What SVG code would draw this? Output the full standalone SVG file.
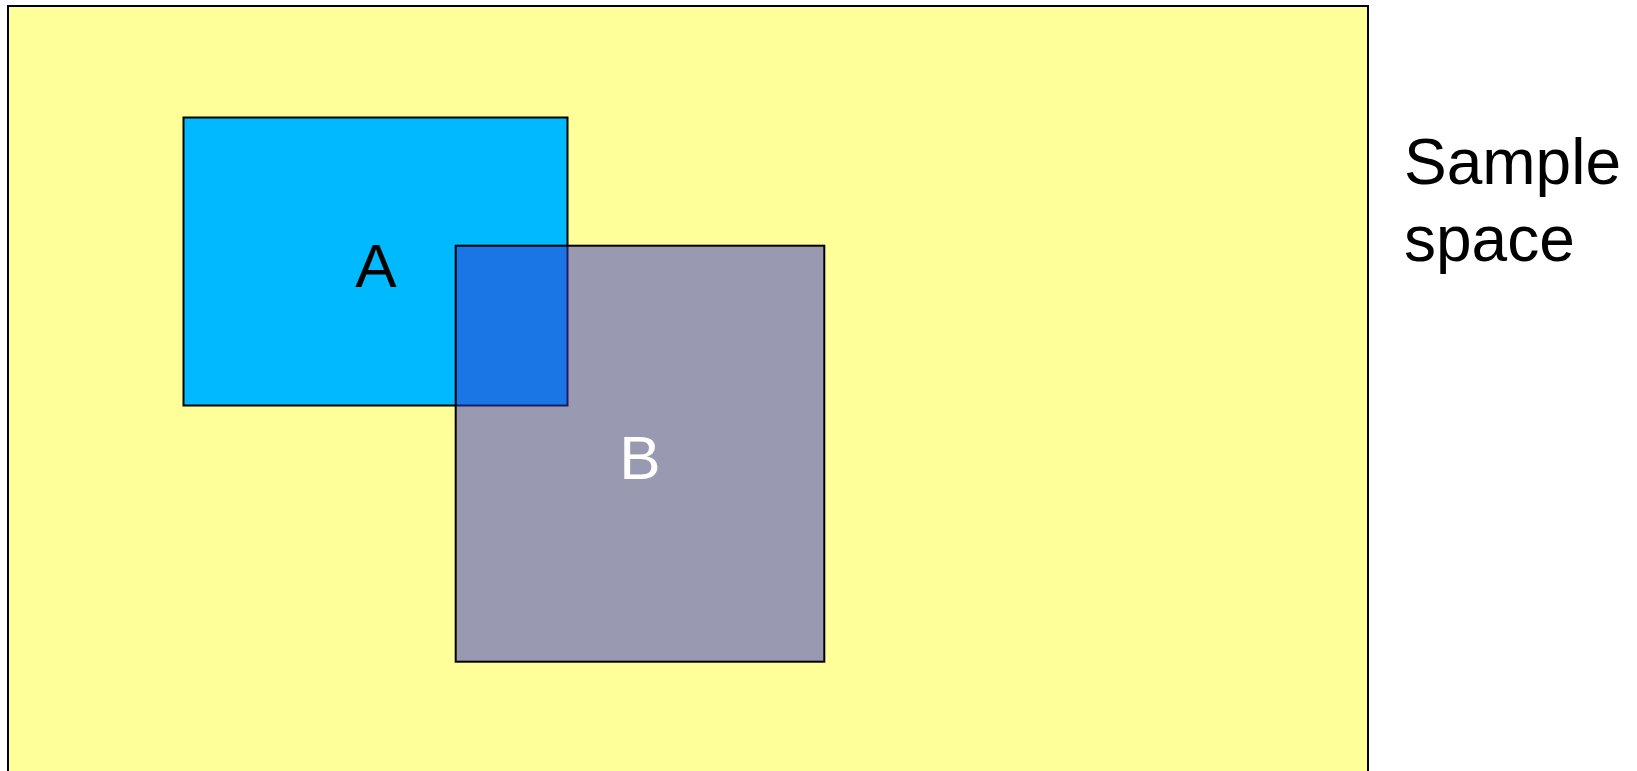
<svg xmlns="http://www.w3.org/2000/svg" width="1637" height="771" viewBox="0 0 1637 771">
<style>
.lbl{font-family:"Liberation Sans",Arial,sans-serif;font-size:62px;text-anchor:middle}
.side{font-family:"Liberation Sans",Arial,sans-serif;font-size:64px}
</style>
<rect width="1637" height="771" fill="#ffffff"/>
<g id="sample-space">
<rect x="8" y="6" width="1360" height="800" fill="#ffff99" stroke="#000" stroke-width="2"/>
</g>
<g id="A">
<rect x="183.5" y="117.5" width="384" height="288" fill="#00b9ff" stroke="#000" stroke-width="2"/>
<text class="lbl" x="376" y="287" fill="#000">A</text>
</g>
<g id="B">
<rect x="455.7" y="245.7" width="368.6" height="416" fill="#3333cc" fill-opacity="0.5" stroke="#000" stroke-width="2"/>
<text class="lbl" x="640" y="479" fill="#fff">B</text>
</g>
<g id="connectors"></g>
<g id="caption">
<text class="side" x="1404" y="184">Sample</text>
<text class="side" x="1404" y="261">space</text>
</g>
</svg>
